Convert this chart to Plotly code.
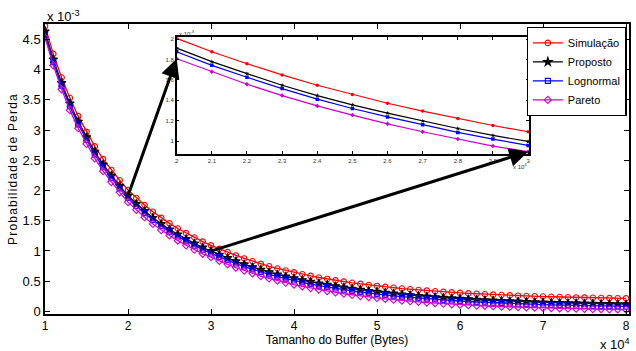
import plotly.graph_objects as go

# ---------------- data ----------------
buffer_bytes = list(range(10000, 80001, 1000))  # Tamanho do Buffer (Bytes)

simulacao = [4.72, 4.26, 3.87, 3.53, 3.23, 2.97, 2.73, 2.52, 2.34, 2.17,
             2.007, 1.876, 1.759, 1.649, 1.548, 1.457, 1.372, 1.295, 1.222, 1.154,
             1.093, 1.035, 0.980, 0.926, 0.876, 0.830, 0.786, 0.746, 0.710, 0.676,
             0.645, 0.615, 0.587, 0.561, 0.537, 0.514, 0.493, 0.473, 0.455, 0.437,
             0.421, 0.406, 0.392, 0.378, 0.366, 0.354, 0.343, 0.333, 0.323, 0.314,
             0.306, 0.298, 0.291, 0.284, 0.277, 0.271, 0.265, 0.260, 0.255, 0.250,
             0.246, 0.242, 0.238, 0.234, 0.231, 0.228, 0.225, 0.222, 0.220, 0.218,
             0.216]

proposto = [4.63, 4.17, 3.78, 3.44, 3.14, 2.88, 2.64, 2.43, 2.245, 2.075,
            1.912, 1.779, 1.662, 1.548, 1.447, 1.356, 1.275, 1.197, 1.125, 1.057,
            0.998, 0.938, 0.883, 0.829, 0.779, 0.733, 0.689, 0.649, 0.613, 0.579,
            0.548, 0.518, 0.490, 0.464, 0.440, 0.417, 0.396, 0.376, 0.358, 0.340,
            0.324, 0.309, 0.295, 0.281, 0.269, 0.257, 0.246, 0.236, 0.226, 0.217,
            0.209, 0.201, 0.194, 0.187, 0.180, 0.174, 0.168, 0.163, 0.158, 0.153,
            0.149, 0.145, 0.141, 0.137, 0.134, 0.131, 0.128, 0.125, 0.123, 0.121,
            0.119]

lognormal = [4.58, 4.125, 3.735, 3.395, 3.095, 2.835, 2.595, 2.385, 2.205, 2.036,
             1.876, 1.743, 1.626, 1.515, 1.412, 1.320, 1.238, 1.161, 1.086, 1.021,
             0.959, 0.901, 0.846, 0.792, 0.742, 0.696, 0.652, 0.612, 0.576, 0.542,
             0.511, 0.481, 0.453, 0.427, 0.403, 0.380, 0.359, 0.339, 0.321, 0.303,
             0.287, 0.272, 0.258, 0.244, 0.232, 0.220, 0.209, 0.199, 0.189, 0.180,
             0.172, 0.164, 0.157, 0.150, 0.143, 0.137, 0.131, 0.126, 0.121, 0.116,
             0.112, 0.108, 0.104, 0.100, 0.097, 0.094, 0.091, 0.088, 0.086, 0.084,
             0.082]

pareto = [4.53, 4.07, 3.675, 3.33, 3.03, 2.77, 2.53, 2.32, 2.14, 1.97,
          1.808, 1.681, 1.558, 1.447, 1.346, 1.256, 1.170, 1.093, 1.021, 0.953,
          0.898, 0.835, 0.779, 0.725, 0.675, 0.629, 0.585, 0.545, 0.509, 0.475,
          0.444, 0.414, 0.386, 0.360, 0.336, 0.313, 0.292, 0.272, 0.254, 0.237,
          0.222, 0.207, 0.193, 0.180, 0.168, 0.157, 0.146, 0.136, 0.127, 0.118,
          0.110, 0.103, 0.097, 0.091, 0.085, 0.080, 0.075, 0.070, 0.066, 0.062,
          0.058, 0.054, 0.051, 0.048, 0.045, 0.042, 0.039, 0.037, 0.035, 0.033,
          0.031]

series_names = ["Simulação", "Proposto", "Lognormal", "Pareto"]

x_tick_vals = [1, 2, 3, 4, 5, 6, 7, 8]
x_tick_text = ["1", "2", "3", "4", "5", "6", "7", "8"]
y_tick_vals = [0, 0.5, 1, 1.5, 2, 2.5, 3, 3.5, 4, 4.5]
y_tick_text = ["0", "0.5", "1", "1.5", "2", "2.5", "3", "3.5", "4", "4.5"]

inset_x_vals = [2, 2.1, 2.2, 2.3, 2.4, 2.5, 2.6, 2.7, 2.8, 2.9, 3]
inset_x_text = ["2", "2.1", "2.2", "2.3", "2.4", "2.5", "2.6", "2.7", "2.8", "2.9", "3"]
inset_y_vals = [1, 1.2, 1.4, 1.6, 1.8, 2]
inset_y_text = ["1", "1.2", "1.4", "1.6", "1.8", "2"]

# ---------------- styling ----------------
FONT = "Liberation Sans, Arial, sans-serif"
colors = ["#ff0000", "#000000", "#0000ff", "#d000d0"]
symbols = ["circle-open", "star", "square-open", "diamond-open"]
msizes = [5.5, 6.5, 5, 5.5]

main_xr = [1, 8.036]
main_yr = [-0.043, 4.755]
ins_dom_x = [0.2255, 0.829]
ins_dom_y = [0.551, 0.954]
ins_xr = [2, 3.003]
ins_yr = [0.873, 2.017]

x_main = [b / 1e4 for b in buffer_bytes]
all_series = [simulacao, proposto, lognormal, pareto]

fig = go.Figure()
for name, ys, c, s, ms in zip(series_names, all_series, colors, symbols, msizes):
    fig.add_trace(go.Scatter(
        x=x_main, y=ys, name=name, mode="lines+markers",
        line=dict(color=c, width=1.3),
        marker=dict(symbol=s, size=ms, color=c, line=dict(color=c, width=1.1)),
        xaxis="x", yaxis="y"))

# inset: same data restricted to 2..3 x10^4 bytes
idx = [i for i, b in enumerate(buffer_bytes) if 20000 <= b <= 30000]
for name, ys, c, s in zip(series_names, all_series, colors, symbols):
    fig.add_trace(go.Scatter(
        x=[x_main[i] for i in idx], y=[ys[i] for i in idx], name=name,
        mode="lines+markers", showlegend=False,
        line=dict(color=c, width=1.2),
        marker=dict(symbol=s.replace("-open", ""), size=3.5, color=c),
        xaxis="x2", yaxis="y2"))


def inset_to_main(xv, yv):
    px = ins_dom_x[0] + (xv - ins_xr[0]) / (ins_xr[1] - ins_xr[0]) * (ins_dom_x[1] - ins_dom_x[0])
    py = ins_dom_y[0] + (yv - ins_yr[0]) / (ins_yr[1] - ins_yr[0]) * (ins_dom_y[1] - ins_dom_y[0])
    return (main_xr[0] + px * (main_xr[1] - main_xr[0]),
            main_yr[0] + py * (main_yr[1] - main_yr[0]))


arrows = []
for b in (20000, 30000):
    i = buffer_bytes.index(b)
    hx, hy = inset_to_main(x_main[i], pareto[i])
    arrows.append(dict(x=hx, y=hy, ax=x_main[i], ay=proposto[i],
                       xref="x", yref="y", axref="x", ayref="y",
                       text="", showarrow=True, arrowhead=2, arrowsize=1.25,
                       arrowwidth=3, arrowcolor="black", standoff=0))

axis_common = dict(showline=True, linecolor="black", mirror="ticks", ticks="inside",
                   showgrid=False, zeroline=False, tickcolor="black")

fig.update_layout(
    width=636, height=351,
    margin=dict(l=45, r=7, t=24, b=37, autoexpand=False),
    paper_bgcolor="white", plot_bgcolor="white",
    font=dict(family=FONT, size=12, color="black"),
    xaxis=dict(domain=[0, 1], range=main_xr, tickvals=x_tick_vals, ticktext=x_tick_text,
               linewidth=1.5, ticklen=5, tickwidth=1.2,
               tickfont=dict(size=12),
               title=dict(text="Tamanho do Buffer (Bytes)", standoff=0, font=dict(size=12)),
               automargin=False, **axis_common),
    yaxis=dict(domain=[0, 1], range=main_yr, tickvals=y_tick_vals, ticktext=y_tick_text,
               linewidth=1.5, ticklen=5, tickwidth=1.2,
               tickfont=dict(size=13),
               title=dict(text='<span style="letter-spacing:1.2px">Probabilidade de Perda</span>',
                          standoff=2, font=dict(size=12)),
               automargin=False, **axis_common),
    xaxis2=dict(domain=ins_dom_x, range=ins_xr, anchor="y2", tickvals=inset_x_vals,
                ticktext=inset_x_text, linewidth=1.5, ticklen=3, tickwidth=1,
                tickfont=dict(size=6, color="#333333"), automargin=False, **axis_common),
    yaxis2=dict(domain=ins_dom_y, range=ins_yr, anchor="x2", tickvals=inset_y_vals,
                ticktext=inset_y_text, linewidth=1.5, ticklen=3, tickwidth=1,
                tickfont=dict(size=6, color="#333333"), automargin=False, **axis_common),
    legend=dict(x=0.996, y=0.989, xanchor="right", yanchor="top",
                bgcolor="white", bordercolor="black", borderwidth=1.2,
                font=dict(family=FONT, size=11), itemwidth=30,
                tracegroupgap=0),
    showlegend=True,
    annotations=arrows + [
        dict(text="x 10<sup>-3</sup>", xref="paper", yref="paper", x=0, y=1,
             xanchor="left", yanchor="bottom", showarrow=False, font=dict(size=13), yshift=-2),
        dict(text="x 10<sup>4</sup>", xref="paper", yref="paper", x=1.005, y=0,
             xanchor="right", yanchor="top", showarrow=False, font=dict(size=13), yshift=-20),
        dict(text="x 10<sup>-3</sup>", xref="x2 domain", yref="y2 domain", x=0, y=1,
             xanchor="left", yanchor="bottom", showarrow=False,
             font=dict(size=6, color="#333333"), yshift=-2),
        dict(text="x 10<sup>4</sup>", xref="x2 domain", yref="y2 domain", x=1, y=0,
             xanchor="right", yanchor="top", showarrow=False,
             font=dict(size=6, color="#333333"), yshift=-6),
    ],
)

fig.write_html("out.html", config={"displayModeBar": False},
               post_script="document.body.style.margin='0';")
